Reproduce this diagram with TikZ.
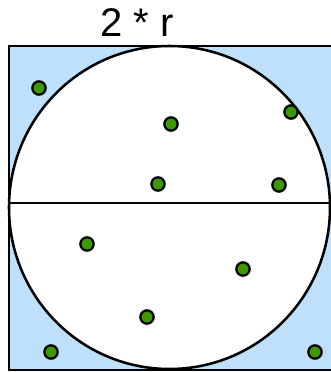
\documentclass[tikz,border=0pt]{standalone}
\usepackage{fontspec}
\setmainfont{Liberation Sans}
\definecolor{skyfill}{HTML}{BFE0FA}
\definecolor{dotgreen}{HTML}{3C9A00}
\tikzset{
  pt/.style={circle, draw=black, line width=1.7pt, fill=dotgreen, minimum size=10pt, inner sep=0pt},
  edge/.style={line width=1.9pt}
}
\begin{document}
\begin{tikzpicture}[x=0.75pt,y=-0.75pt]
\useasboundingbox (0,0) rectangle (330,372);
\fill[white] (0,0) rectangle (330,372);
\node[font=\fontsize{30}{32}\selectfont, inner sep=0pt] (lbl) at (137,23) {2 * r};
\draw[edge, fill=skyfill] (9,46) rectangle (335,370);
\draw[edge, fill=white] (169.5,207.5) ellipse [x radius=160.5, y radius=161.5];
\coordinate (l) at (9,203);
\coordinate (r) at (335,203);
\draw[edge] (l) -- (r);
\foreach \n/\x/\y in {a/39/88, b/171/124, c/291/112, d/158/184, e/279/185, f/87/244, g/243/269, h/147/317, i/51/352, j/315/352}
  \node[pt] (\n) at (\x,\y) {};
\end{tikzpicture}
\end{document}
